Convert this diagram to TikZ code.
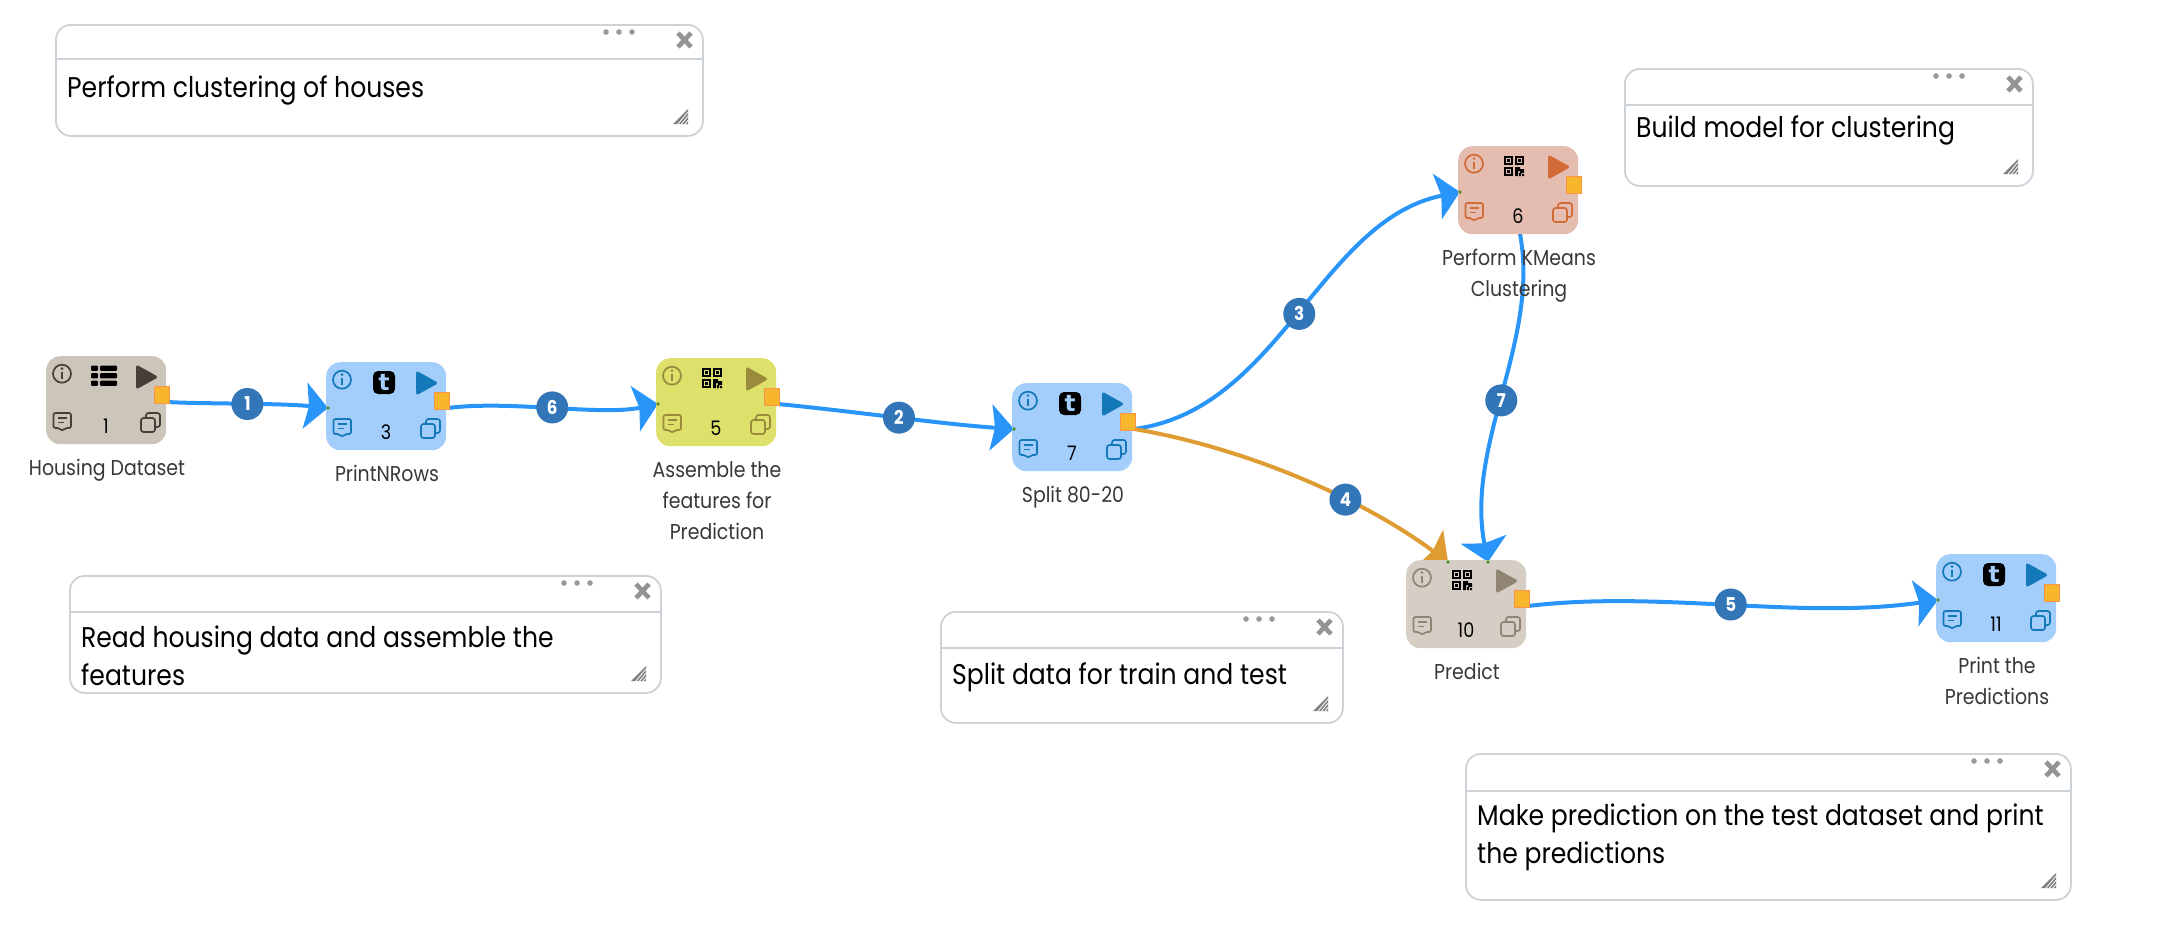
\documentclass[tikz,border=0pt]{standalone}
\usepackage{fontspec}
\setmainfont[FakeStretch=0.88]{Poppins}
\newfontfamily\tfont{DejaVu Sans}
\usetikzlibrary{arrows.meta}
\pgfdeclarelayer{edges}
\pgfsetlayers{edges,main}
\definecolor{eblue}{HTML}{2A95F9}
\definecolor{eorange}{HTML}{DE9C33}
\definecolor{badgec}{HTML}{3276B8}
\definecolor{notel}{HTML}{CDD1D8}
\definecolor{portc}{HTML}{F8B62C}
\definecolor{portb}{HTML}{F9944A}
\definecolor{dotc}{HTML}{4E8B2E}
\definecolor{fgray}{HTML}{CCC6BA}\definecolor{igray}{HTML}{453F38}
\definecolor{fblue}{HTML}{A3CEFB}\definecolor{iblue}{HTML}{1479B8}
\definecolor{fyel}{HTML}{DDE06A}\definecolor{iyel}{HTML}{9A8A3B}
\definecolor{fsal}{HTML}{E4BDB0}\definecolor{isal}{HTML}{D26B36}
\definecolor{ftan}{HTML}{D6CEC5}\definecolor{itan}{HTML}{8F8572}
\tikzset{
  x=1pt,y=-1pt,
  wfbox/.style={rounded corners=14pt,minimum width=120pt,minimum height=88pt,inner sep=0pt,anchor=north west},
  wflabel/.style={font=\fontsize{21.5}{31}\selectfont,text=black!78,align=center,anchor=north,inner sep=0pt},
  wfnum/.style={font=\fontsize{20}{20}\selectfont,text=black,inner sep=0pt},
  edgeb/.style={draw=eblue,line width=4pt,-{Stealth[length=23pt,width=46pt,inset=4pt]}},
  edgeo/.style={draw=eorange,line width=4pt,-{Stealth[length=23pt,width=46pt,inset=4pt]}},
  badge/.style={circle,fill=badgec,text=white,minimum size=32pt,inner sep=0pt,font=\fontsize{19}{19}\selectfont\bfseries},
  notebox/.style={draw=notel,line width=1.8pt,rounded corners=15pt,fill=white},
  notetext/.style={font=\fontsize{28.5}{38}\selectfont,text=black,align=left,anchor=west,inner sep=0pt},
}
\newcommand\iconlist{%
  \foreach \yy in {9.5,17,24.5}{\fill[black,rounded corners=1pt] (45,\yy) rectangle (52,\yy+5.4);
    \fill[black,rounded corners=1pt] (54,\yy) rectangle (71,\yy+5.4);}}
\newcommand\iconqr{%
  \foreach \xx/\yy in {46/10,57/10,46/21}{\draw[black,line width=1.8pt] (\xx+.9,\yy+.9) rectangle (\xx+8.1,\yy+8.1);
    \fill[black] (\xx+3,\yy+3) rectangle (\xx+6,\yy+6);}
  \fill[black] (57,21) rectangle (60,30) (60,21) rectangle (62,25) (62,23) rectangle (66,27) (61,27) rectangle (63,30) (64,28) rectangle (66,30);}
\newcommand\icont[1]{%
  \fill[black,rounded corners=5pt] (47,9) rectangle (69,32);
  \node[inner sep=0pt,text=#1,font=\tfont\fontsize{23}{23}\selectfont\bfseries] at (58,20.5) {t};}
\newcommand\wf[8]{% name,x,y,fill,icon colour,main icon,number,label
  \begin{scope}[shift={(#2,#3)}]
    \coordinate (#1-out) at (122,46);
    \coordinate (#1-in) at (2,46);
    \coordinate (#1-topa) at (42,2);
    \coordinate (#1-topb) at (82,2);
    \coordinate (#1-bot) at (62,88);
    \node[wfbox,fill=#4] (#1) at (0,0) {};
    \draw[#5,line width=1.7pt] (16,17.7) circle (9pt);
    \fill[#5] (16,12.6) circle (1.4pt);
    \fill[#5] (14.9,15.6) rectangle (17.1,23);
    \fill[#5,line join=round,draw=#5,line width=3pt] (91.5,11) -- (109.5,21) -- (91.5,31) -- cycle;
    \draw[#5,line width=1.7pt,rounded corners=2pt] (7.5,57) -- (25,57) -- (25,72) -- (19,72) -- (16.2,75) -- (13.4,72) -- (7.5,72) -- cycle;
    \draw[#5,line width=1.5pt] (11.5,62) -- (21,62) (11.5,66.5) -- (17.5,66.5);
    \draw[#5,line width=1.7pt,rounded corners=2.5pt] (100,57) rectangle (114,71);
    \draw[#5,line width=1.7pt,rounded corners=2.5pt,fill=#4] (95,62) rectangle (109,76);
    #6
    \node[wfnum] (#1-num) at (60,70) {#7};
    \node[wflabel] (#1-lab) at (61,103) {#8};
    \fill[portc,draw=portb,line width=1.4pt] (108.5,30.5) rectangle (123.5,47.5);
  \end{scope}}
\newcommand\notebx[8]{% name,x1,y1,x2,y2,divider,text y,text
  \node[notebox,minimum width=#4pt-#2pt,minimum height=#5pt-#3pt,inner sep=0pt,anchor=north west] (#1) at (#2,#3) {};
  \draw[notel,line width=1.8pt] (#2,#6) -- (#4,#6);
  \foreach \dd in {-96,-83,-70}{\fill[black!40] (#4+\dd,#3+8) circle (2.8pt);}
  \draw[black!42,line width=4.6pt] (#4-24,#3+9) -- (#4-11,#3+23) (#4-11,#3+9) -- (#4-24,#3+23);
  \fill[black!50] (#4-14,#5-26) -- (#4-14,#5-11) -- (#4-29,#5-11) -- cycle;
  \foreach \dd in {3,6.5,10}{\draw[white,line width=.8pt] (#4-14-\dd,#5-11) -- (#4-14,#5-11-\dd*1.2);}
  \node[notetext] (#1-text) at (#2+12,#7) {#8};}
\begin{document}
\begin{tikzpicture}
\useasboundingbox (0,0) rectangle (2180,930);
\notebx{na}{55}{24}{702}{135}{59}{90}{Perform clustering of houses}
\notebx{nb}{1624}{68}{2032}{185}{105}{130}{Build model for clustering}
\notebx{nc}{69}{575}{660}{692}{612}{656}{Read housing data and assemble the\\features}
\notebx{nd}{940}{611}{1342}{722}{648}{677}{Split data for train and test}
\notebx{ne}{1465}{753}{2070}{899}{791}{837}{Make prediction on the test dataset and print\\the predictions}
\wf{n1}{46}{356}{fgray}{igray}{\iconlist}{1}{Housing Dataset}
\wf{n3}{326}{362}{fblue}{iblue}{\icont{fblue}}{3}{PrintNRows}
\wf{n5}{656}{358}{fyel}{iyel}{\iconqr}{5}{Assemble the\\features for\\Prediction}
\wf{n7}{1012}{383}{fblue}{iblue}{\icont{fblue}}{7}{Split 80-20}
\wf{n6}{1458}{146}{fsal}{isal}{\iconqr}{6}{Perform KMeans\\Clustering}
\wf{n10}{1406}{560}{ftan}{itan}{\iconqr}{10}{Predict}
\wf{n11}{1936}{554}{fblue}{iblue}{\icont{fblue}}{11}{Print the\\Predictions}
\foreach \pp in {n3-in,n5-in,n7-in,n6-in,n11-in,n10-topa,n10-topb}{\fill[dotc] (\pp) circle (1.8pt);}
\begin{pgfonlayer}{edges}
\draw[edgeb] (n1-out) .. controls (200,404) and (280,403) .. node[badge,pos=.53] (b1) {1} (n3-in);
\draw[edgeb] (n3-out) .. controls (510,400) and (600,416) .. node[badge,pos=.49] (b6) {6} (n5-in);
\draw[edgeb] (n5-out) .. controls (860,412) and (940,424) .. node[badge,pos=.5] (b2) {2} (n7-in);
\draw[edgeb] (n7-out) .. controls (1280,410) and (1320,220) .. node[badge,pos=.5] (b3) {3} (n6-in);
\draw[edgeo] (n7-out) .. controls (1230,445) and (1350,490) .. node[badge,pos=.67] (b4) {4} (n10-topa);
\draw[edgeb] (n6-bot) .. controls (1540,340) and (1465,445) .. node[badge,pos=.52] (b7) {7} (n10-topb);
\draw[edgeb] (n10-out) .. controls (1660,590) and (1800,620) .. node[badge,pos=.5] (b5) {5} (n11-in);
\end{pgfonlayer}
\end{tikzpicture}
\end{document}
